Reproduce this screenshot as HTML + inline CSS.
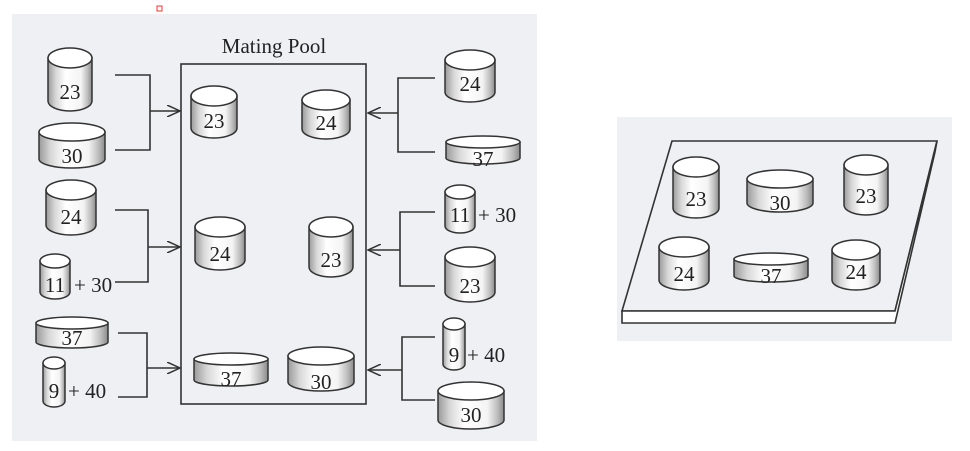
<!DOCTYPE html>
<html><head><meta charset="utf-8"><style>
html,body{margin:0;padding:0;background:#fff;width:970px;height:451px;overflow:hidden}
text{font-family:"Liberation Serif",serif;font-size:21px;fill:#222}
</style></head><body>
<svg width="970" height="451" viewBox="0 0 970 451" xmlns="http://www.w3.org/2000/svg">
<defs>
<linearGradient id="g" x1="0" x2="1" y1="0" y2="0">
<stop offset="0" stop-color="#9a9a9a"/><stop offset="0.18" stop-color="#d8d8d8"/><stop offset="0.4" stop-color="#fff"/><stop offset="0.75" stop-color="#f4f4f4"/><stop offset="0.9" stop-color="#bdbdbd"/><stop offset="1" stop-color="#8a8a8a"/>
</linearGradient>
<marker id="a" markerWidth="14" markerHeight="12" refX="13" refY="6" orient="auto" markerUnits="userSpaceOnUse"><path d="M0,0 L13,6 L0,12" fill="none" stroke="#333" stroke-width="1.5"/></marker>
</defs>
<rect x="12" y="14" width="525" height="427" fill="#eef0f4"/>
<rect x="617" y="117" width="335" height="224" fill="#eef0f4"/>
<g stroke="#333" stroke-width="1.6" fill="none">
<rect x="181" y="64" width="185" height="340"/>
<path d="M115,75 H150 V150 H115 M150,111 H180" marker-end="url(#a)"/>
<path d="M115,210 H148 V282 H115 M148,247 H180" marker-end="url(#a)"/>
<path d="M118,333 H147 V397 H118 M147,368 H180" marker-end="url(#a)"/>
<path d="M435,78 H398 V152 H435 M398,113 H368" marker-end="url(#a)"/>
<path d="M435,212 H400 V286 H435 M400,250 H368" marker-end="url(#a)"/>
<path d="M435,337 H402 V400 H435 M402,370 H368" marker-end="url(#a)"/>
<path d="M672,141 H937 L895,311 H622 Z"/>
<path d="M622,311 H895 L937,141 L935,152 L895,323 H622 Z" fill="#fff"/>
</g>
<g stroke="#333" stroke-width="1.5">
<path d="M48,58 V101 A22,10 0 0 0 92,101 V58 Z" fill="url(#g)"/><ellipse cx="70" cy="58" rx="22" ry="10" fill="#fff"/>
<path d="M39,132 V159 A33,9 0 0 0 105,159 V132 Z" fill="url(#g)"/><ellipse cx="72" cy="132" rx="33" ry="9" fill="#fff"/>
<path d="M46,190 V225 A25,10 0 0 0 96,225 V190 Z" fill="url(#g)"/><ellipse cx="71" cy="190" rx="25" ry="10" fill="#fff"/>
<path d="M40,261 V292 A15,7 0 0 0 70,292 V261 Z" fill="url(#g)"/><ellipse cx="55" cy="261" rx="15" ry="7" fill="#fff"/>
<path d="M36,323 V342 A36,6 0 0 0 108,342 V323 Z" fill="url(#g)"/><ellipse cx="72" cy="323" rx="36" ry="6" fill="#fff"/>
<path d="M43,363 V401 A11,6 0 0 0 65,401 V363 Z" fill="url(#g)"/><ellipse cx="54" cy="363" rx="11" ry="6" fill="#fff"/>

<path d="M191,96 V128 A23,10 0 0 0 237,128 V96 Z" fill="url(#g)"/><ellipse cx="214" cy="96" rx="23" ry="10" fill="#fff"/>
<path d="M302,100 V129 A24,10 0 0 0 350,129 V100 Z" fill="url(#g)"/><ellipse cx="326" cy="100" rx="24" ry="10" fill="#fff"/>
<path d="M195,227 V260 A25,10 0 0 0 245,260 V227 Z" fill="url(#g)"/><ellipse cx="220" cy="227" rx="25" ry="10" fill="#fff"/>
<path d="M309,227 V267 A22,10 0 0 0 353,267 V227 Z" fill="url(#g)"/><ellipse cx="331" cy="227" rx="22" ry="10" fill="#fff"/>
<path d="M194,359 V380 A37,6 0 0 0 268,380 V359 Z" fill="url(#g)"/><ellipse cx="231" cy="359" rx="37" ry="6" fill="#fff"/>
<path d="M288,356 V382 A33,9 0 0 0 354,382 V356 Z" fill="url(#g)"/><ellipse cx="321" cy="356" rx="33" ry="9" fill="#fff"/>

<path d="M445,60 V92 A25,10 0 0 0 495,92 V60 Z" fill="url(#g)"/><ellipse cx="470" cy="60" rx="25" ry="10" fill="#fff"/>
<path d="M446,142 V158 A37,6 0 0 0 520,158 V142 Z" fill="url(#g)"/><ellipse cx="483" cy="142" rx="37" ry="6" fill="#fff"/>
<path d="M445,192 V226 A15,7 0 0 0 475,226 V192 Z" fill="url(#g)"/><ellipse cx="460" cy="192" rx="15" ry="7" fill="#fff"/>
<path d="M445,257 V292 A25,10 0 0 0 495,292 V257 Z" fill="url(#g)"/><ellipse cx="470" cy="257" rx="25" ry="10" fill="#fff"/>
<path d="M443,324 V364 A11,6 0 0 0 465,364 V324 Z" fill="url(#g)"/><ellipse cx="454" cy="324" rx="11" ry="6" fill="#fff"/>
<path d="M438,391 V420 A33,9 0 0 0 504,420 V391 Z" fill="url(#g)"/><ellipse cx="471" cy="391" rx="33" ry="9" fill="#fff"/>

<path d="M673,167 V208 A23,10 0 0 0 719,208 V167 Z" fill="url(#g)"/><ellipse cx="696" cy="167" rx="23" ry="10" fill="#fff"/>
<path d="M747,179 V203 A33,9 0 0 0 813,203 V179 Z" fill="url(#g)"/><ellipse cx="780" cy="179" rx="33" ry="9" fill="#fff"/>
<path d="M844,165 V205 A22,10 0 0 0 888,205 V165 Z" fill="url(#g)"/><ellipse cx="866" cy="165" rx="22" ry="10" fill="#fff"/>
<path d="M659,247 V280 A25,10 0 0 0 709,280 V247 Z" fill="url(#g)"/><ellipse cx="684" cy="247" rx="25" ry="10" fill="#fff"/>
<path d="M734,259 V276 A37,6 0 0 0 808,276 V259 Z" fill="url(#g)"/><ellipse cx="771" cy="259" rx="37" ry="6" fill="#fff"/>
<path d="M832,250 V280 A24,10 0 0 0 880,280 V250 Z" fill="url(#g)"/><ellipse cx="856" cy="250" rx="24" ry="10" fill="#fff"/>
</g>
<g text-anchor="middle">
<text x="274" y="53" style="font-size:21px">Mating Pool</text>
<text x="70" y="99">23</text><text x="72" y="163">30</text><text x="71" y="224">24</text>
<text x="55" y="292">11</text><text x="72" y="345">37</text><text x="54" y="398">9</text>
<text x="214" y="128">23</text><text x="326" y="130">24</text><text x="220" y="261">24</text>
<text x="331" y="267">23</text><text x="231" y="386">37</text><text x="321" y="389">30</text>
<text x="470" y="91">24</text><text x="483" y="166">37</text><text x="460" y="222">11</text>
<text x="470" y="293">23</text><text x="454" y="362">9</text><text x="471" y="422">30</text>
<text x="696" y="206">23</text><text x="780" y="210">30</text><text x="866" y="203">23</text>
<text x="684" y="281">24</text><text x="771" y="283">37</text><text x="856" y="279">24</text>
</g>
<text x="74" y="292">+ 30</text><text x="68" y="398">+ 40</text>
<text x="478" y="222">+ 30</text><text x="467" y="362">+ 40</text>
<rect x="157" y="6" width="5" height="5" fill="none" stroke="#e33" stroke-width="1"/>
</svg>
</body></html>
